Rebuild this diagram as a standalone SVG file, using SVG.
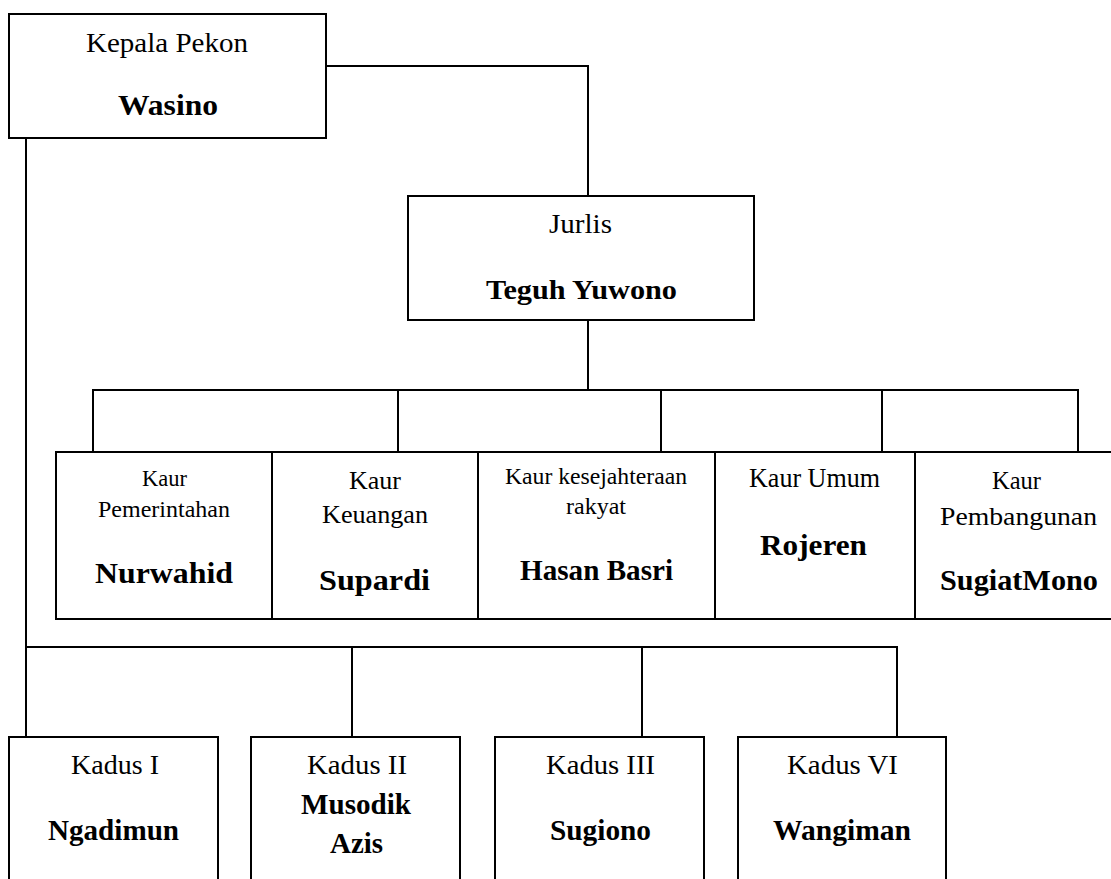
<svg xmlns="http://www.w3.org/2000/svg" width="1111" height="879" viewBox="0 0 1111 879">
<style>
.box{fill:#fff;stroke:#000;stroke-width:2}
.ln{fill:none;stroke:#000;stroke-width:2}
text{font-family:"Liberation Serif","Times New Roman",serif;fill:#000;text-anchor:middle}
.b{font-weight:bold}
</style>
<rect width="1111" height="879" fill="#fff"/>
<g id="connectors">
<polyline class="ln" points="326,66 588,66 588,196"/>
<line class="ln" x1="588" y1="320" x2="588" y2="390"/>
<line class="ln" x1="92" y1="390" x2="1079" y2="390"/>
<line class="ln" x1="93" y1="390" x2="93" y2="452"/>
<line class="ln" x1="398" y1="390" x2="398" y2="452"/>
<line class="ln" x1="661" y1="390" x2="661" y2="452"/>
<line class="ln" x1="882" y1="390" x2="882" y2="452"/>
<line class="ln" x1="1078" y1="390" x2="1078" y2="452"/>
<line class="ln" x1="26" y1="138" x2="26" y2="737"/>
<polyline class="ln" points="26,647 897,647 897,737"/>
<line class="ln" x1="352" y1="647" x2="352" y2="737"/>
<line class="ln" x1="642" y1="647" x2="642" y2="737"/>
</g>
<g id="kepala">
<rect class="box" x="9" y="14" width="317" height="124"/>
<text x="167" y="52" font-size="28" textLength="162" lengthAdjust="spacingAndGlyphs">Kepala Pekon</text>
<text class="b" x="168" y="115" font-size="29" textLength="100" lengthAdjust="spacingAndGlyphs">Wasino</text>
</g>
<g id="jurlis">
<rect class="box" x="408" y="196" width="346" height="124"/>
<text x="580.5" y="233" font-size="28" textLength="63" lengthAdjust="spacingAndGlyphs">Jurlis</text>
<text class="b" x="581.5" y="299" font-size="28" textLength="191" lengthAdjust="spacingAndGlyphs">Teguh Yuwono</text>
</g>
<g id="kaur-pemerintahan">
<rect class="box" x="56" y="452" width="216" height="167"/>
<text x="164.5" y="486" font-size="24" textLength="45" lengthAdjust="spacingAndGlyphs">Kaur</text>
<text x="164" y="517" font-size="24" textLength="132" lengthAdjust="spacingAndGlyphs">Pemerintahan</text>
<text class="b" x="164" y="583" font-size="30" textLength="138" lengthAdjust="spacingAndGlyphs">Nurwahid</text>
</g>
<g id="kaur-keuangan">
<rect class="box" x="272" y="452" width="206" height="167"/>
<text x="375" y="489" font-size="26" textLength="52" lengthAdjust="spacingAndGlyphs">Kaur</text>
<text x="375" y="523" font-size="26" textLength="106" lengthAdjust="spacingAndGlyphs">Keuangan</text>
<text class="b" x="374.5" y="590" font-size="30" textLength="111" lengthAdjust="spacingAndGlyphs">Supardi</text>
</g>
<g id="kaur-kesra">
<rect class="box" x="478" y="452" width="237" height="167"/>
<text x="596" y="484" font-size="24" textLength="182" lengthAdjust="spacingAndGlyphs">Kaur kesejahteraan</text>
<text x="596" y="514" font-size="24" textLength="60" lengthAdjust="spacingAndGlyphs">rakyat</text>
<text class="b" x="596.5" y="580" font-size="29" textLength="153" lengthAdjust="spacingAndGlyphs">Hasan Basri</text>
</g>
<g id="kaur-umum">
<rect class="box" x="715" y="452" width="200" height="167"/>
<text x="814.5" y="487" font-size="27" textLength="131" lengthAdjust="spacingAndGlyphs">Kaur Umum</text>
<text class="b" x="813.5" y="555" font-size="30" textLength="107" lengthAdjust="spacingAndGlyphs">Rojeren</text>
</g>
<g id="kaur-pembangunan">
<rect class="box" x="915" y="452" width="210" height="167"/>
<text x="1016.5" y="489" font-size="26" textLength="49" lengthAdjust="spacingAndGlyphs">Kaur</text>
<text x="1018.5" y="525" font-size="26" textLength="157" lengthAdjust="spacingAndGlyphs">Pembangunan</text>
<text class="b" x="1019" y="590" font-size="30" textLength="158" lengthAdjust="spacingAndGlyphs">SugiatMono</text>
</g>
<g id="kadus-1">
<rect class="box" x="9" y="737" width="209" height="160"/>
<text x="115" y="774" font-size="28" textLength="88" lengthAdjust="spacingAndGlyphs">Kadus I</text>
<text class="b" x="113.5" y="840" font-size="29" textLength="131" lengthAdjust="spacingAndGlyphs">Ngadimun</text>
</g>
<g id="kadus-2">
<rect class="box" x="251" y="737" width="209" height="160"/>
<text x="357" y="774" font-size="28" textLength="100" lengthAdjust="spacingAndGlyphs">Kadus II</text>
<text class="b" x="356" y="814" font-size="29" textLength="110" lengthAdjust="spacingAndGlyphs">Musodik</text>
<text class="b" x="356.5" y="853" font-size="29" textLength="53" lengthAdjust="spacingAndGlyphs">Azis</text>
</g>
<g id="kadus-3">
<rect class="box" x="495" y="737" width="209" height="160"/>
<text x="600.5" y="774" font-size="28" textLength="109" lengthAdjust="spacingAndGlyphs">Kadus III</text>
<text class="b" x="600.5" y="840" font-size="29" textLength="101" lengthAdjust="spacingAndGlyphs">Sugiono</text>
</g>
<g id="kadus-6">
<rect class="box" x="738" y="737" width="208" height="160"/>
<text x="842.5" y="774" font-size="28" textLength="111" lengthAdjust="spacingAndGlyphs">Kadus VI</text>
<text class="b" x="842" y="840" font-size="29" textLength="138" lengthAdjust="spacingAndGlyphs">Wangiman</text>
</g>
</svg>
